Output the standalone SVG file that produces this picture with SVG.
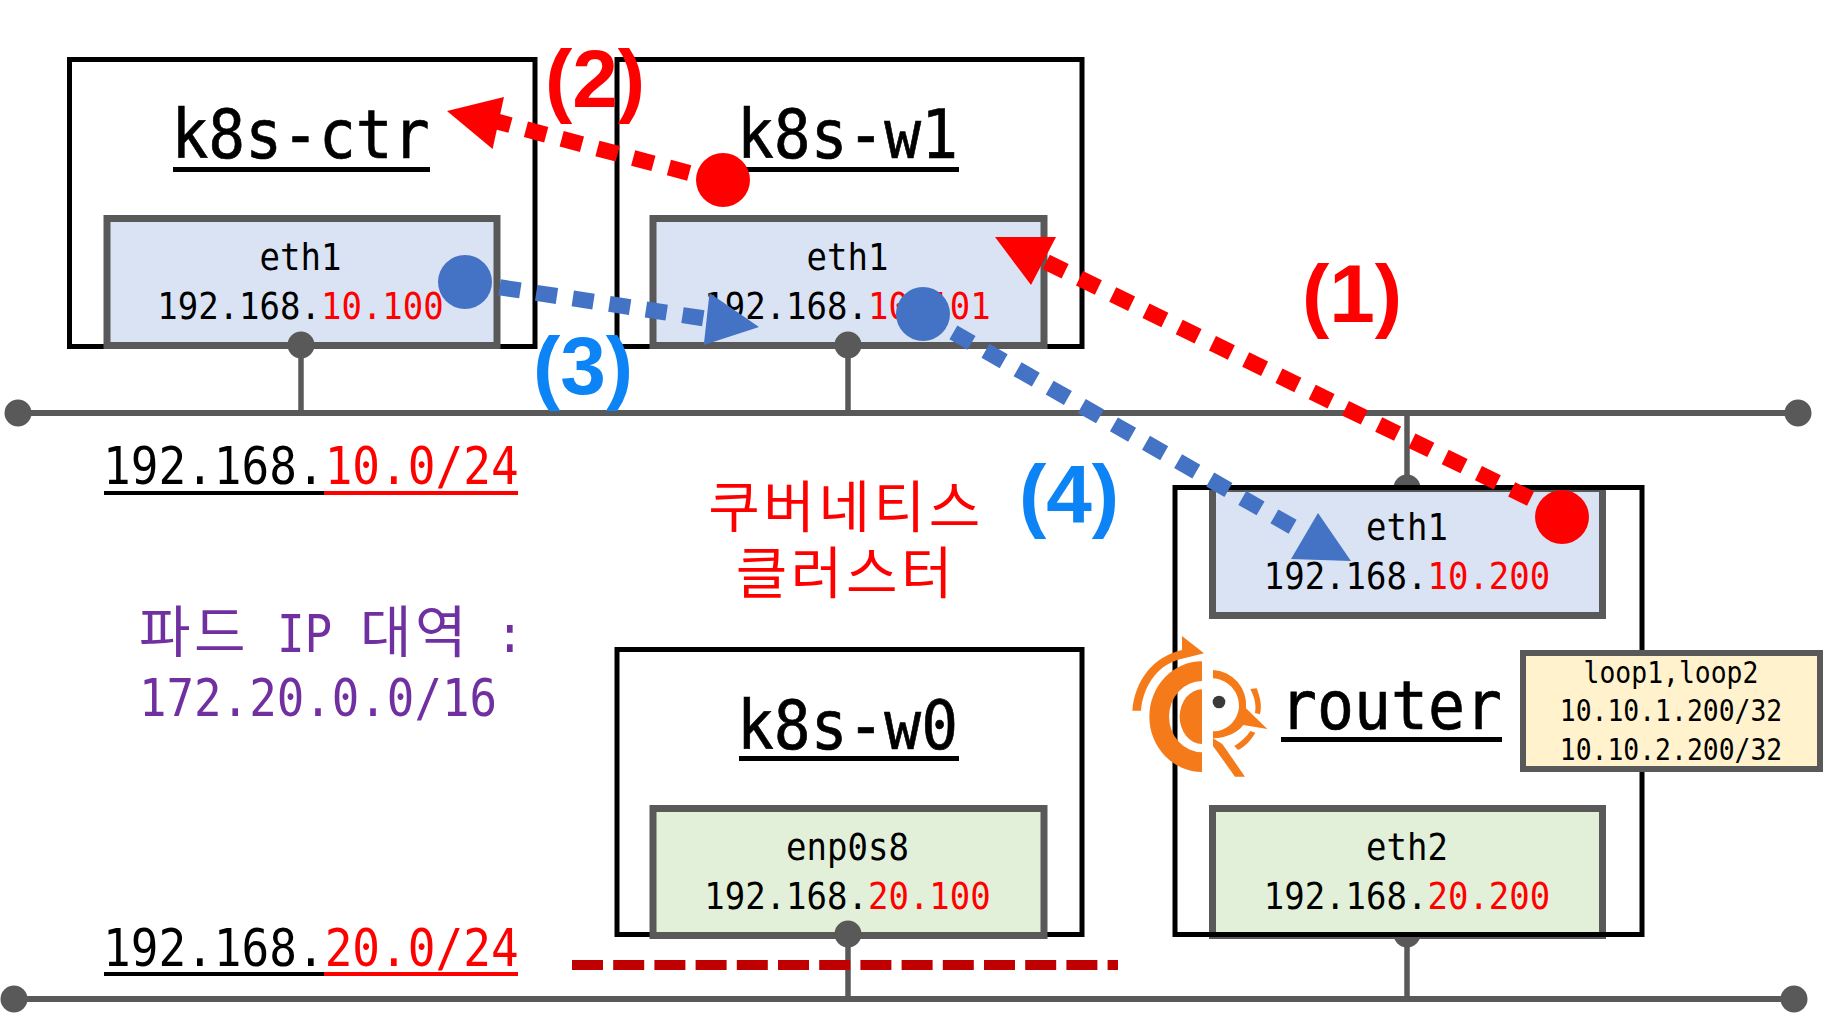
<svg xmlns="http://www.w3.org/2000/svg" width="1824" height="1017" viewBox="0 0 1824 1017">
<style>
text{font-family:"DejaVu Sans Mono","Noto Sans CJK KR",monospace;fill:#000}
.m{text-anchor:middle}
.box{fill:none;stroke:#000;stroke-width:5}
.blue{fill:#dae3f3;stroke:#595959;stroke-width:7}
.green{fill:#e2f0d9;stroke:#595959;stroke-width:7}
.title{font-size:68px;stroke:#000;stroke-width:.7px}
.ifc{font-size:38px}
.net{font-size:51px}
.loop{font-size:29.5px}
.r{fill:#f00}
.ul{stroke-width:5;stroke:#000}
.ur{stroke-width:4;stroke:#f00}
.uk{stroke-width:4;stroke:#000}
.bus{stroke:#595959;stroke-width:6;fill:none}
.stub{stroke:#595959;stroke-width:5.5;fill:none}
.pad{fill:#595959}
.big{font-family:"Liberation Sans",Arial,sans-serif;font-weight:700;font-size:82px;text-anchor:middle}
.kr{font-family:"Noto Sans CJK KR","Noto Sans",sans-serif;font-size:56px;fill:#f00;text-anchor:middle;letter-spacing:3.6px}
.pod{font-size:51px}
.pod,.pod tspan{fill:#7030a0}
.pod .h{font-family:"Noto Sans CJK KR",sans-serif;font-size:56px}
.fr{stroke:#f00;stroke-width:16;stroke-dasharray:21 16;stroke-dashoffset:2;fill:none}
.fb{stroke:#4472c4;stroke-width:16;stroke-dasharray:21 16;stroke-dashoffset:2;fill:none}
.o{fill:#f47a1a}
</style>
<g id="k8s-ctr">
<rect class="box" x="69.5" y="59.5" width="465.5" height="287"/>
<text class="title m" x="300.5" y="158" textLength="258" lengthAdjust="spacingAndGlyphs">k8s-ctr</text>
<line class="ul" x1="173" x2="430" y1="169.5" y2="169.5"/>
<rect class="blue" x="107" y="218.5" width="390" height="127"/>
<text class="ifc m" x="300.5" y="269.5" textLength="81.9" lengthAdjust="spacingAndGlyphs">eth1</text>
<text class="ifc m" x="300.5" y="319" textLength="286.6" lengthAdjust="spacingAndGlyphs">192.168.<tspan class="r">10.100</tspan></text>
</g>
<g id="k8s-w1">
<rect class="box" x="617" y="59.5" width="465" height="287"/>
<text class="title m" x="847.5" y="158" textLength="221" lengthAdjust="spacingAndGlyphs">k8s-w1</text>
<line class="ul" x1="739" x2="959" y1="169.5" y2="169.5"/>
<rect class="blue" x="653" y="218.5" width="391" height="127"/>
<text class="ifc m" x="847.5" y="269.5" textLength="81.9" lengthAdjust="spacingAndGlyphs">eth1</text>
<text class="ifc m" x="847.5" y="319" textLength="286.6" lengthAdjust="spacingAndGlyphs">192.168.<tspan class="r">10.101</tspan></text>
</g>
<g id="k8s-w0">
<rect class="box" x="617" y="649.5" width="465" height="285"/>
<text class="title m" x="847.5" y="748.5" textLength="221" lengthAdjust="spacingAndGlyphs">k8s-w0</text>
<line class="ul" x1="739" x2="959" y1="758.5" y2="758.5"/>
<rect class="green" x="653" y="808.5" width="391" height="127"/>
<text class="ifc m" x="847.5" y="860" textLength="122.8" lengthAdjust="spacingAndGlyphs">enp0s8</text>
<text class="ifc m" x="847.5" y="909" textLength="286.6" lengthAdjust="spacingAndGlyphs">192.168.<tspan class="r">20.100</tspan></text>
</g>
<g id="connectors">
<line class="bus" x1="18" x2="1798" y1="413" y2="413"/>
<circle class="pad" cx="18" cy="413" r="13.5"/>
<circle class="pad" cx="1798" cy="413" r="13.5"/>
<line class="stub" x1="301" x2="301" y1="345" y2="413"/>
<circle class="pad" cx="301" cy="345" r="13.5"/>
<line class="stub" x1="848" x2="848" y1="345" y2="413"/>
<circle class="pad" cx="848" cy="345" r="13.5"/>
<line class="stub" x1="1407" x2="1407" y1="413" y2="488"/>
<circle class="pad" cx="1407" cy="488" r="13.5"/>
<line class="bus" x1="14" x2="1794" y1="999" y2="999"/>
<circle class="pad" cx="14" cy="999" r="13.5"/>
<circle class="pad" cx="1794" cy="999" r="13.5"/>
<line class="stub" x1="848" x2="848" y1="934" y2="999"/>
<circle class="pad" cx="848" cy="934" r="13.5"/>
<line class="stub" x1="1407" x2="1407" y1="934" y2="999"/>
<circle class="pad" cx="1407" cy="934" r="13.5"/>
</g>
<g id="router">
<rect class="blue" x="1212.5" y="488.5" width="390" height="127"/>
<rect class="green" x="1212.5" y="808.5" width="390" height="127"/>
<rect class="box" x="1175" y="487.5" width="467" height="447"/>
<text class="ifc m" x="1407" y="539.5" textLength="81.9" lengthAdjust="spacingAndGlyphs">eth1</text>
<text class="ifc m" x="1407" y="588.5" textLength="286.6" lengthAdjust="spacingAndGlyphs">192.168.<tspan class="r">10.200</tspan></text>
<text class="ifc m" x="1407" y="860" textLength="81.9" lengthAdjust="spacingAndGlyphs">eth2</text>
<text class="ifc m" x="1407" y="909" textLength="286.6" lengthAdjust="spacingAndGlyphs">192.168.<tspan class="r">20.200</tspan></text>
<text class="title m" x="1391" y="729" textLength="222" lengthAdjust="spacingAndGlyphs">router</text>
<line class="ul" x1="1281" x2="1502" y1="739.5" y2="739.5"/>
<g id="router-logo" transform="translate(1110 620) scale(.3333)">
<path class="o" d="M276 124A158 166 0 0 0 276 456V397A96 104 0 0 1 276 183Z"/>
<path class="o" d="M276 208A67 82 0 0 0 276 372Z"/>
<path class="o" d="M67 272H93C100 190 150 130 216 116L282 100 216 48V90C130 110 75 180 67 272Z"/>
<path class="o" d="M309 150A105 105 0 0 1 408 265L472 327 400 315C385 335 350 355 309 355V334C360 334 388 290 387 255 386 210 350 178 309 175Z"/>
<path class="o" d="M309 355V378L375 470H405L337 372Z"/>
<path class="o" d="M421 207 440 205C452 235 456 260 450 283L435 279C440 255 433 230 421 207Z"/>
<path class="o" d="M421 333 436 338C424 360 405 380 384 390L373 378C393 366 410 350 421 333Z"/>
<circle cx="327" cy="246" r="19" fill="#3a3a3a"/>
</g>
<rect x="1523" y="653" width="297" height="116" fill="#fff2cc" stroke="#595959" stroke-width="6"/>
<text class="loop m" x="1671" y="682.5" textLength="174.8" lengthAdjust="spacingAndGlyphs">loop1,loop2</text>
<text class="loop m" x="1671" y="720.5" textLength="222.5" lengthAdjust="spacingAndGlyphs">10.10.1.200/32</text>
<text class="loop m" x="1671" y="759.5" textLength="222.5" lengthAdjust="spacingAndGlyphs">10.10.2.200/32</text>
</g>
<g id="net-10">
<text class="net" x="103" y="484" textLength="415.6" lengthAdjust="spacingAndGlyphs">192.168.<tspan class="r">10.0/24</tspan></text>
<line class="uk" x1="104" x2="324" y1="493" y2="493"/>
<line class="ur" x1="324" x2="518" y1="493" y2="493"/>
</g>
<g id="net-20">
<text class="net" x="103" y="966" textLength="415.6" lengthAdjust="spacingAndGlyphs">192.168.<tspan class="r">20.0/24</tspan></text>
<line class="uk" x1="104" x2="324" y1="974" y2="974"/>
<line class="ur" x1="324" x2="518" y1="974" y2="974"/>
<line x1="572" x2="1118" y1="965" y2="965" stroke="#c00000" stroke-width="10" stroke-dasharray="31 10.2"/>
</g>
<g id="cluster-label">
<text class="kr" x="846" y="527">쿠버네티스</text>
<text class="kr" x="846" y="593">클러스터</text>
</g>
<g id="pod-range">
<text class="pod" y="652"><tspan class="h" x="139 194">파드</tspan><tspan x="277" textLength="27.7" lengthAdjust="spacingAndGlyphs">I</tspan><tspan x="304.6" textLength="27.7" lengthAdjust="spacingAndGlyphs">P</tspan><tspan class="h" x="360 415">대역</tspan><tspan x="496" textLength="27.7" lengthAdjust="spacingAndGlyphs">:</tspan></text>
<text class="pod" x="139" y="716" textLength="358" lengthAdjust="spacingAndGlyphs">172.20.0.0/16</text>
</g>
<g id="flows">
<line class="fr" x1="1562" y1="514" x2="1040" y2="259"/>
<polygon fill="#f00" points="995,237 1056,237 1031,285"/>
<circle cx="1562" cy="517" r="27" fill="#f00"/>
<line class="fr" x1="723" y1="182" x2="495" y2="121"/>
<polygon fill="#f00" points="447,111 504,97 492.6,149"/>
<circle cx="723" cy="180" r="27" fill="#f00"/>
<line class="fb" x1="465" y1="282" x2="715" y2="320"/>
<polygon fill="#4472c4" points="759,327 709.5,293 703.8,345"/>
<circle cx="465" cy="282" r="27" fill="#4472c4"/>
<line class="fb" x1="923" y1="315" x2="1300" y2="531"/>
<polygon fill="#4472c4" points="1318,513 1351,561 1291,559"/>
<circle cx="923" cy="314" r="27" fill="#4472c4"/>
</g>
<g id="step-labels">
<text class="big" x="1352" y="322" style="fill:#f00">(1)</text>
<text class="big" x="595" y="107" style="fill:#f00">(2)</text>
<text class="big" x="583" y="394" style="fill:#0d84f5">(3)</text>
<text class="big" x="1069" y="522" style="fill:#0d84f5">(4)</text>
</g>
</svg>
